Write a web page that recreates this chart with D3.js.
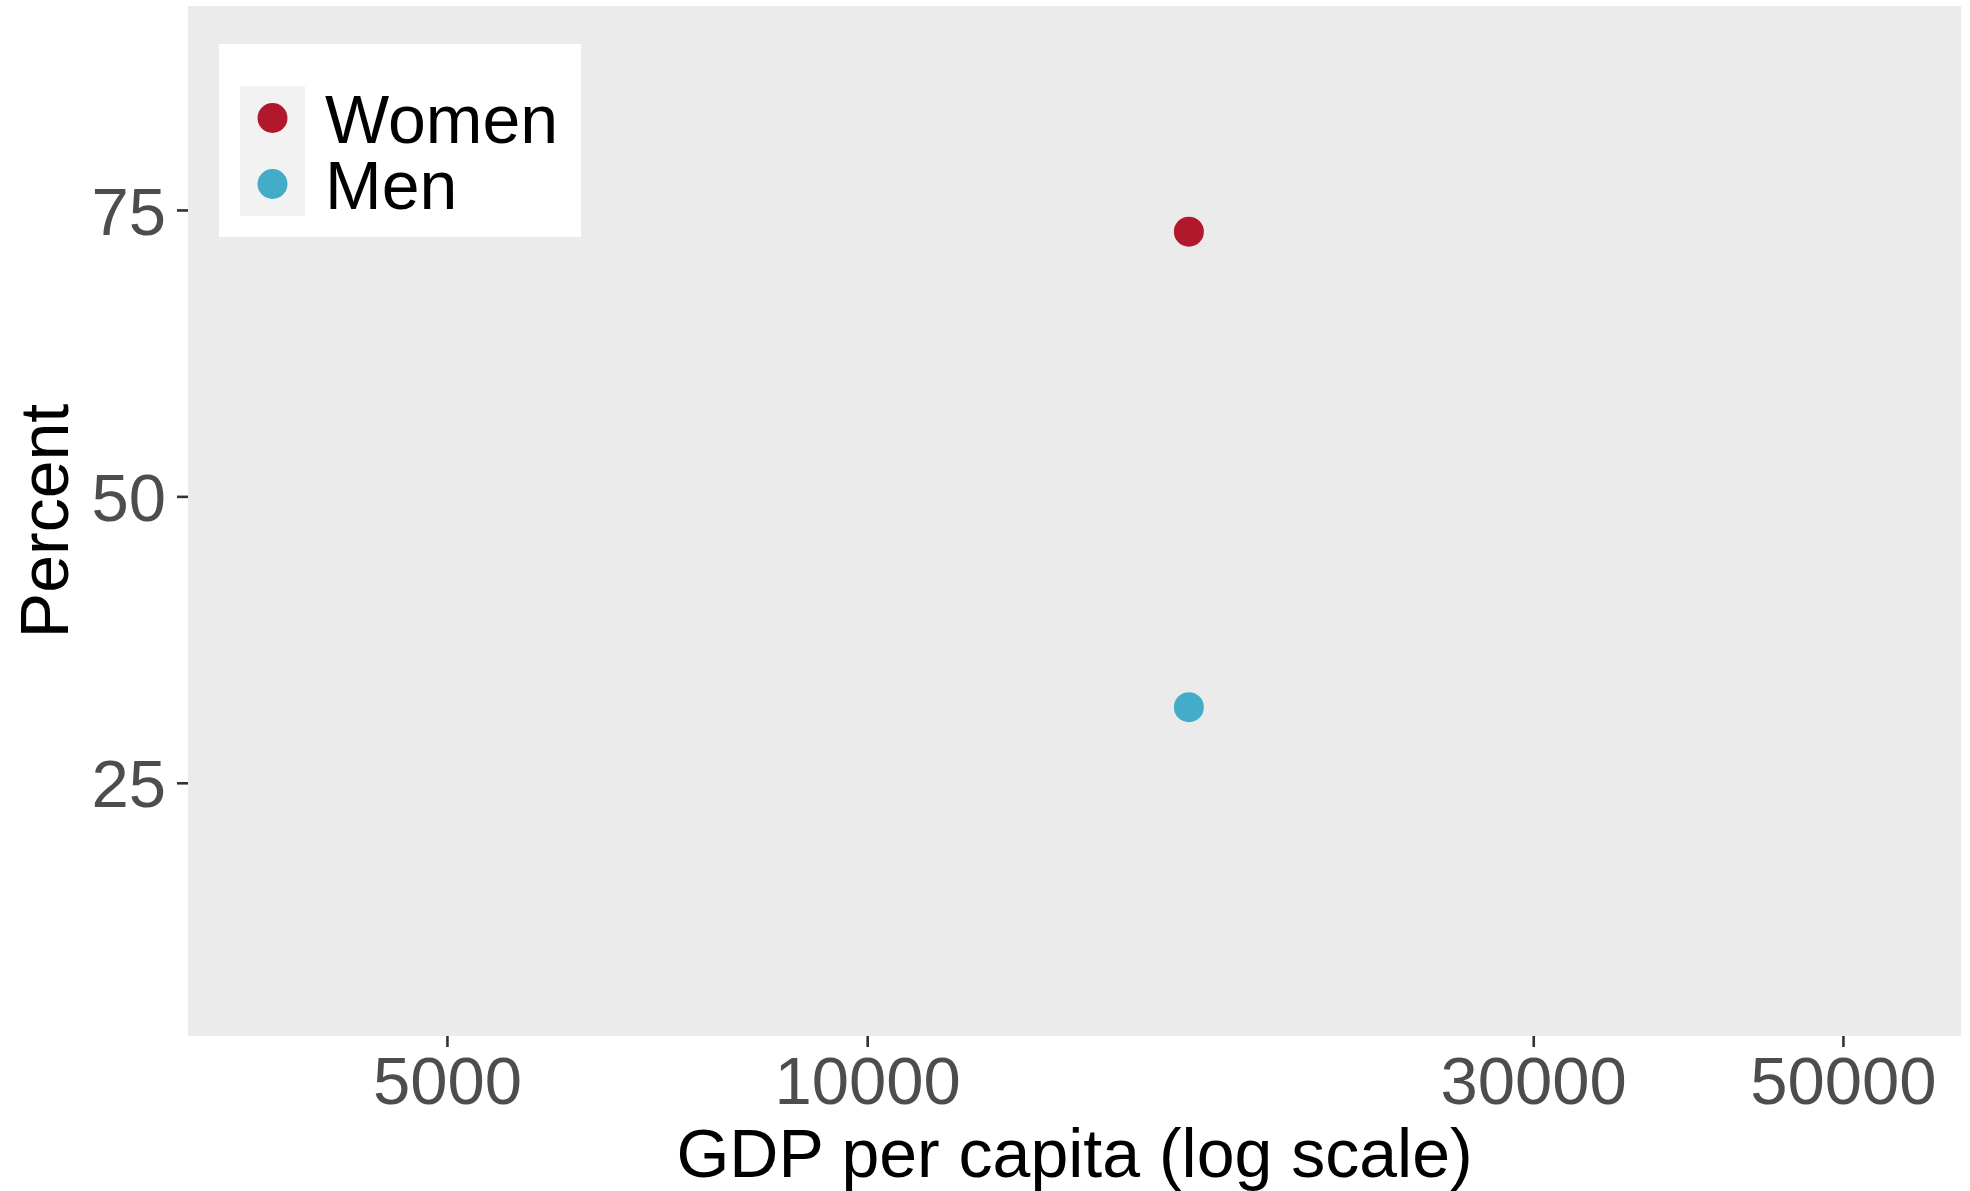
<!DOCTYPE html>
<html>
<head>
<meta charset="utf-8">
<script src="https://cdn.jsdelivr.net/npm/d3@7"></script>
<style>
  html, body { margin: 0; padding: 0; background: #ffffff; }
  svg { display: block; font-family: "Liberation Sans", Arial, Helvetica, sans-serif; }
</style>
</head>
<body>
<svg id="chart" width="1970" height="1191"></svg>
<script>
// Series and values
const groups = ["Women", "Men"];
const gdpPerCapita = [17000, 17000];
const percentValues = [73.1, 31.6];
const groupColors = ["#B2182B", "#43ACC8"];

// Axis ticks
const xTickValues = [5000, 10000, 30000, 50000];
const yTickValues = [25, 50, 75];
const xDomain = [3262, 60750];
const yDomain = [2.9, 92.8];

const panel = { left: 188, top: 6, right: 1961, bottom: 1036 };

const svg = d3.select("#chart");

const x = d3.scaleLog().domain(xDomain).range([panel.left, panel.right]);
const y = d3.scaleLinear().domain(yDomain).range([panel.bottom, panel.top]);

// Panel background
svg.append("rect")
  .attr("x", panel.left).attr("y", panel.top)
  .attr("width", panel.right - panel.left)
  .attr("height", panel.bottom - panel.top)
  .attr("fill", "#EBEBEB");

// Axes
const xAxis = d3.axisBottom(x)
  .tickValues(xTickValues)
  .tickFormat(d3.format("d"))
  .tickSize(11).tickPadding(9);
const yAxis = d3.axisLeft(y)
  .tickValues(yTickValues)
  .tickFormat(d3.format("d"))
  .tickSize(11).tickPadding(11);

const gx = svg.append("g")
  .attr("transform", `translate(0,${panel.bottom})`)
  .call(xAxis);
const gy = svg.append("g")
  .attr("transform", `translate(${panel.left},0)`)
  .call(yAxis);

[gx, gy].forEach(g => {
  g.select(".domain").remove();
  g.selectAll(".tick line").attr("stroke", "#333333").attr("stroke-width", 2.6);
  g.selectAll(".tick text")
    .attr("fill", "#4D4D4D")
    .style("font-size", "67px")
    .style("font-family", "'Liberation Sans', Arial, sans-serif");
});
gy.selectAll(".tick text").attr("dy", "0.36em");

// Axis titles
svg.append("text")
  .attr("x", (panel.left + panel.right) / 2)
  .attr("y", 1177)
  .attr("text-anchor", "middle")
  .attr("fill", "#000000")
  .style("font-size", "68px")
  .text("GDP per capita (log scale)");

svg.append("text")
  .attr("transform", `translate(68,${(panel.top + panel.bottom) / 2}) rotate(-90)`)
  .attr("text-anchor", "middle")
  .attr("fill", "#000000")
  .style("font-size", "68px")
  .text("Percent");

// Points
svg.append("g")
  .selectAll("circle")
  .data(groups.map((g, i) => ({ g, gdp: gdpPerCapita[i], pct: percentValues[i], color: groupColors[i] })))
  .join("circle")
  .attr("cx", d => x(d.gdp))
  .attr("cy", d => y(d.pct))
  .attr("r", 15)
  .attr("fill", d => d.color);

// Legend
const legend = svg.append("g");
legend.append("rect")
  .attr("x", 219).attr("y", 44)
  .attr("width", 362).attr("height", 193)
  .attr("fill", "#ffffff");
legend.append("rect")
  .attr("x", 240).attr("y", 86)
  .attr("width", 65).attr("height", 130)
  .attr("fill", "#F2F2F2");
groups.forEach((g, i) => {
  const cy = 118 + i * 66;
  legend.append("circle")
    .attr("cx", 272.5).attr("cy", cy).attr("r", 15)
    .attr("fill", groupColors[i]);
  legend.append("text")
    .attr("x", 325).attr("y", cy + 25)
    .attr("fill", "#000000")
    .style("font-size", "68px")
    .text(g);
});
</script>
</body>
</html>
